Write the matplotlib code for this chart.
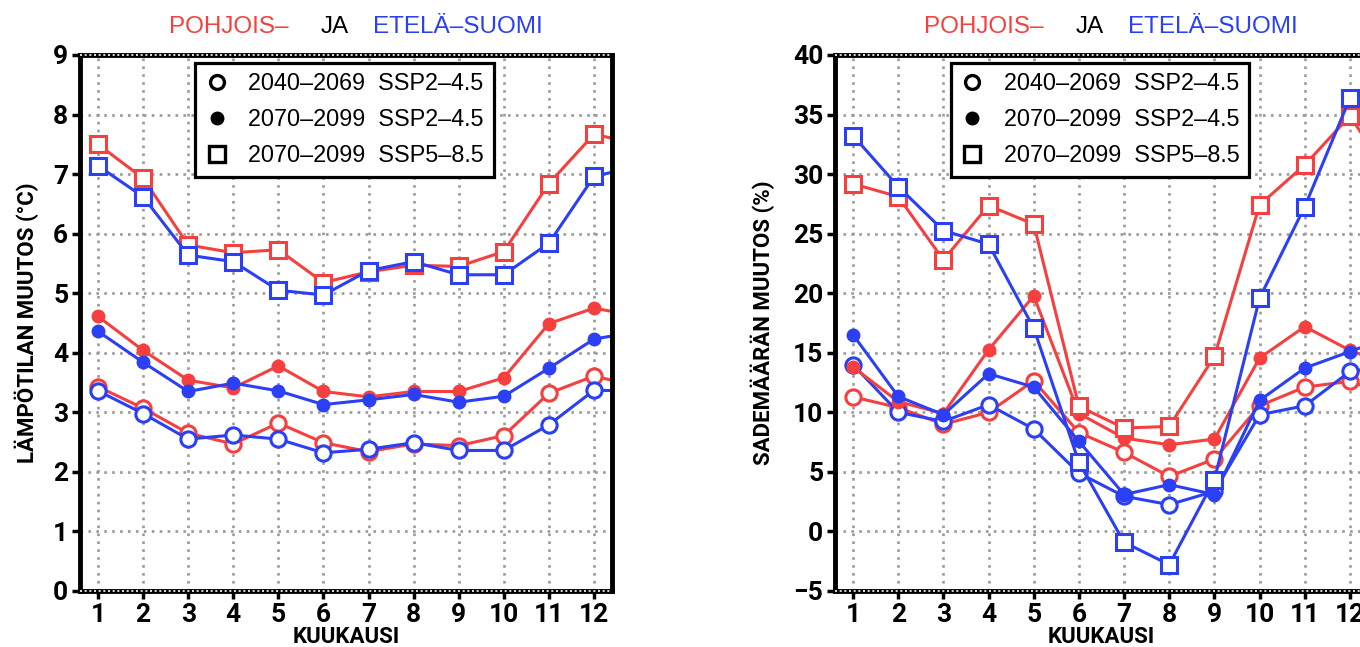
import matplotlib
matplotlib.use("Agg")
import matplotlib.pyplot as plt
from matplotlib.lines import Line2D

# kuukaudet ja mitatut muutokset (pohjoinen = n, etelä = s)
months = list(range(1, 13))

temp_n_2040_45 = [3.43, 3.07, 2.65, 2.47, 2.82, 2.49, 2.34, 2.47, 2.44, 2.61, 3.32, 3.61]
temp_s_2040_45 = [3.36, 2.98, 2.55, 2.62, 2.55, 2.32, 2.38, 2.49, 2.36, 2.36, 2.79, 3.37]
temp_n_2070_45 = [4.61, 4.04, 3.54, 3.41, 3.78, 3.35, 3.26, 3.35, 3.35, 3.58, 4.49, 4.75]
temp_s_2070_45 = [4.36, 3.84, 3.35, 3.49, 3.36, 3.13, 3.21, 3.30, 3.17, 3.27, 3.74, 4.23]
temp_n_2070_85 = [7.50, 6.93, 5.81, 5.68, 5.73, 5.18, 5.36, 5.47, 5.45, 5.70, 6.84, 7.67]
temp_s_2070_85 = [7.14, 6.62, 5.64, 5.53, 5.05, 4.97, 5.38, 5.53, 5.31, 5.31, 5.84, 6.96]

prec_n_2040_45 = [11.3, 10.4, 9.0, 10.0, 12.65, 8.3, 6.64, 4.62, 6.08, 10.55, 12.12, 12.6]
prec_s_2040_45 = [14.0, 10.0, 9.24, 10.64, 8.6, 4.9, 2.95, 2.25, 3.37, 9.8, 10.55, 13.43]
prec_n_2070_45 = [13.8, 10.9, 9.9, 15.25, 19.78, 9.9, 7.84, 7.28, 7.76, 14.56, 17.2, 15.2]
prec_s_2070_45 = [16.51, 11.33, 9.8, 13.24, 12.12, 7.56, 3.1, 3.93, 3.1, 11.0, 13.72, 15.1]
prec_n_2070_85 = [29.18, 28.11, 22.8, 27.36, 25.8, 10.5, 8.68, 8.82, 14.69, 27.42, 30.77, 34.88]
prec_s_2070_85 = [33.23, 28.95, 25.26, 24.12, 17.07, 5.8, -0.91, -2.79, 4.35, 19.59, 27.27, 36.37]

legend_labels = ["2040–2069  SSP2–4.5", "2070–2099  SSP2–4.5", "2070–2099  SSP5–8.5"]

RED = "#f5403f"
BLUE = "#2b3ff5"

BOLD = ["Roboto", "DejaVu Sans"]
PLAIN = ["Liberation Sans", "DejaVu Sans"]

fig = plt.figure(figsize=(13.6, 6.47), dpi=100)
ax1 = fig.add_axes([80 / 1360, 1 - 591 / 647, 532 / 1360, 536 / 647])
ax2 = fig.add_axes([835 / 1360, 1 - 591 / 647, 533 / 1360, 536 / 647])


def wrap(vals):
    # joulukuun jälkeen jatketaan tammikuuhun
    return months + [13], vals + [vals[0]]


def style(ax, ylim, yticks, ylabel, labx):
    ax.set_xlim(0.6, 12.4)
    ax.set_ylim(*ylim)
    ax.set_xticks(months)
    ax.set_yticks(yticks)
    ax.set_axisbelow(True)
    ax.grid(True, color="#9a9a9a", ls=(0, (1, 2)), lw=1.9)
    for s in ["left", "right"]:
        ax.spines[s].set_linewidth(3.5)
    for s in ["top", "bottom"]:
        ax.spines[s].set_linewidth(3.5)
        yy = 1 if s == "top" else 0
        ax.plot([0, 1], [yy, yy], transform=ax.transAxes, color="white",
                lw=1.2, ls=(0, (1.2, 1.6)), clip_on=False, zorder=5)
    ax.tick_params(axis="both", direction="out", length=6, width=2.5,
                   top=False, right=False, pad=2.5, labelsize=19,
                   labelfontfamily="Roboto")
    for lab in ax.get_xticklabels() + ax.get_yticklabels():
        lab.set_fontweight("bold")
    ax.set_xlabel("KUUKAUSI", fontfamily=BOLD, fontweight="bold", fontsize=16)
    ax.xaxis.set_label_coords(0.5, -0.066)
    ax.set_ylabel(ylabel, fontfamily=BOLD, fontweight="bold", fontsize=16)
    ax.yaxis.set_label_coords(labx, 0.5)


def draw(ax, open_n, open_s, fill_n, fill_s, sq_n, sq_s):
    for vals, col in [(open_n, RED), (open_s, BLUE)]:
        x, y = wrap(vals)
        ax.plot(x, y, color=col, lw=2.2, marker="o", ms=11, mfc="white", mec=col, mew=2.2)
    for vals, col in [(fill_n, RED), (fill_s, BLUE)]:
        x, y = wrap(vals)
        ax.plot(x, y, color=col, lw=2.2, marker="o", ms=9, mfc=col, mec=col)
    for vals, col in [(sq_n, RED), (sq_s, BLUE)]:
        x, y = wrap(vals)
        ax.plot(x, y, color=col, lw=2.2, marker="s", ms=11, mfc="white", mec=col, mew=2.2)


def legend(ax):
    handles = [
        Line2D([], [], ls="none", marker="o", ms=10, mfc="white", mec="black", mew=2.4),
        Line2D([], [], ls="none", marker="o", ms=9, mfc="black", mec="black"),
        Line2D([], [], ls="none", marker="s", ms=11, mfc="white", mec="black", mew=2.4),
    ]
    leg = ax.legend(handles, legend_labels, loc="upper left", bbox_to_anchor=(0.217, 0.986),
                    prop={"family": PLAIN, "size": 16.8}, frameon=True, fancybox=False,
                    framealpha=1, edgecolor="black", borderpad=0.42, handlelength=1.0,
                    handletextpad=0.85, labelspacing=0.55, borderaxespad=0)
    leg.get_frame().set_linewidth(2.3)
    leg.set_zorder(10)


draw(ax1, temp_n_2040_45, temp_s_2040_45, temp_n_2070_45, temp_s_2070_45,
     temp_n_2070_85, temp_s_2070_85)
style(ax1, (0, 9), list(range(0, 10)), "LÄMPÖTILAN MUUTOS (°C)", -0.077)
legend(ax1)

draw(ax2, prec_n_2040_45, prec_s_2040_45, prec_n_2070_45, prec_s_2070_45,
     prec_n_2070_85, prec_s_2070_85)
style(ax2, (-5, 40), list(range(-5, 41, 5)), "SADEMÄÄRÄN MUUTOS (%)", -0.112)
legend(ax2)

# otsikot kolmessa värissä
for off in [0, 755]:
    fig.text((169 + off) / 1360, 1 - 33 / 647, "POHJOIS–", color=RED, fontfamily=PLAIN, fontsize=17.5)
    fig.text((321 + off) / 1360, 1 - 33 / 647, "JA", color="black", fontfamily=PLAIN, fontsize=17.5)
    fig.text((373 + off) / 1360, 1 - 33 / 647, "ETELÄ–SUOMI", color=BLUE, fontfamily=PLAIN, fontsize=17.5)

fig.savefig("out.png", dpi=100)
